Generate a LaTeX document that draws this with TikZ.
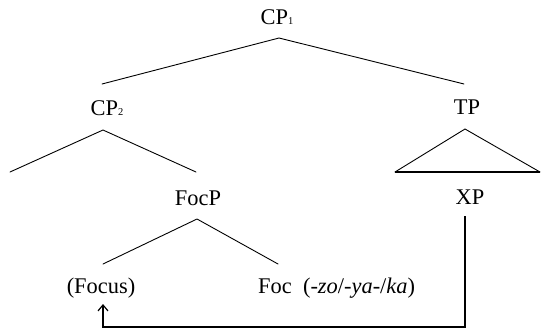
\documentclass[tikz,border=0pt]{standalone}
\usepackage{fontspec}
\setmainfont{Liberation Serif}
\usetikzlibrary{arrows.meta}
\newcommand{\smallsub}[1]{{\fontsize{10.5}{10.5}\selectfont #1}}
\tikzset{
  lbl/.style={font=\fontsize{22.5}{26}\selectfont, inner sep=0pt, anchor=base},
  branch/.style={line width=0.9bp, line cap=round},
  base/.style={line width=1.5bp},
  movearrow/.style={line width=1.7bp, -{Straight Barb[length=6bp,width=10bp,line width=1.2bp]}}
}
\begin{document}
\begin{tikzpicture}[x=1bp,y=-1bp]
\useasboundingbox (0,0) rectangle (541,334);
% labels
\node[lbl] (cp1)   at (277,24.5) {CP\smallsub{1}};
\node[lbl] (cp2)   at (107,115.5) {CP\smallsub{2}};
\node[lbl] (tp)    at (467,114.5) {TP};
\node[lbl] (focp)  at (198,205) {FocP};
\node[lbl] (xp)    at (470,204) {XP};
\node[lbl] (focus) at (101,293) {(Focus)};
\node[lbl, anchor=base west] (foc) at (258,293) {Foc\hspace{0.5em}(\textit{-zo}/\textit{-ya-}/\textit{ka})};
% branch points
\coordinate (a1) at (279,38);
\coordinate (a1l) at (102,84);
\coordinate (a1r) at (464,84);
\coordinate (a2) at (103,130);
\coordinate (a2l) at (10,172);
\coordinate (a2r) at (196,172);
\coordinate (at) at (465,129);
\coordinate (atl) at (395,172);
\coordinate (atr) at (540,172);
\coordinate (af) at (197,219);
\coordinate (afl) at (103,264);
\coordinate (afr) at (278,264);
\coordinate (xtop) at (465,216);
\coordinate (bot) at (103,327);
\coordinate (ftip) at (103,304);
% branches
\draw[branch] (a1l) -- (a1) -- (a1r);
\draw[branch] (a2l) -- (a2) -- (a2r);
\draw[branch] (atl) -- (at) -- (atr);
\draw[base] (atl) -- (atr);
\draw[branch] (afl) -- (af) -- (afr);
% movement
\draw[movearrow] (xtop) |- (bot) -- (ftip);
\end{tikzpicture}
\end{document}
